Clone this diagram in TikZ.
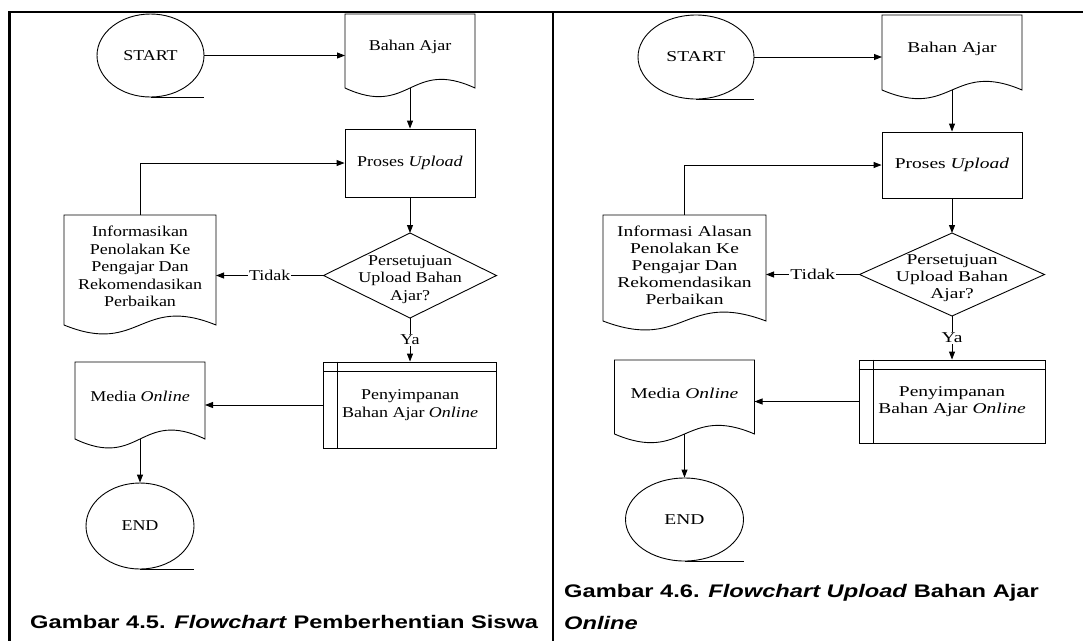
\documentclass[tikz,border=0pt]{standalone}
\usepackage{fontspec}
\setmainfont[FakeStretch=1.2]{Liberation Serif}
\newfontfamily\serifR[FakeStretch=1.3]{Liberation Serif}
\newfontfamily\capfont[FakeStretch=1.3]{Liberation Sans}
\usetikzlibrary{arrows.meta,calc,shapes.geometric}

\tikzset{
  shp/.style={draw=black, line width=0.9pt},
  term/.style={ellipse, shp, inner sep=0pt},
  proc/.style={rectangle, shp, inner sep=0pt, align=center},
  txt/.style={inner sep=0pt, align=center},
  arr/.style={line width=0.9pt, -{Triangle[length=8pt,width=6pt]}},
  lbl/.style={fill=white, inner sep=1pt},
  frame/.style={line width=2.5pt},
  fL/.style={font=\fontsize{15}{17.5}\selectfont},
  fR/.style={font=\serifR\fontsize{15}{17}\selectfont},
  capt/.style={inner sep=0pt, align=left, font=\capfont\bfseries\fontsize{18.2}{32}\selectfont}
}

% document shape drawn around a text node: name, half width, up, down, wave control
\newcommand\docshape[5]{%
  \coordinate (#1-t) at ($(#1)+(0,-#3)$);
  \coordinate (#1-b) at ($(#1)+(0,#4)$);
  \coordinate (#1-l) at ($(#1)+(-#2,0)$);
  \coordinate (#1-r) at ($(#1)+(#2,0)$);
  \draw[shp] ($(#1)+(-#2,#4)$) -- ($(#1)+(-#2,-#3)$) -- ($(#1)+(#2,-#3)$) -- ($(#1)+(#2,#4)$)
     .. controls ($(#1)+(0,{#4-#5})$) and ($(#1)+(0,{#4+#5})$) .. ($(#1)+(-#2,#4)$) -- cycle;}
% decision diamond around a text node: name, half width, half height, vertical offset
\newcommand\decision[4]{%
  \coordinate (#1-n) at ($(#1)+(0,{#4-#3})$);
  \coordinate (#1-s) at ($(#1)+(0,{#4+#3})$);
  \coordinate (#1-w) at ($(#1)+(-#2,#4)$);
  \coordinate (#1-e) at ($(#1)+(#2,#4)$);
  \draw[shp] (#1-n) -- (#1-e) -- (#1-s) -- (#1-w) -- cycle;}
% subroutine inner lines: name, left offset, top offset
\newcommand\subinner[3]{%
  \draw[shp] ($(#1.north west)+(#2,0)$) -- ($(#1.south west)+(#2,0)$);
  \draw[shp] ($(#1.north west)+(0,#3)$) -- ($(#1.north east)+(0,#3)$);}

\begin{document}
\begin{tikzpicture}[x=1pt,y=-1pt]
\useasboundingbox (0,0) rectangle (1083,641);

% table frame
\draw[frame] (8,12) -- (1083,12);
\draw[frame] (9.5,12) -- (9.5,641);
\draw[frame] (553,12) -- (553,641);

% ---------------- left flowchart ----------------
\begin{scope}[every node/.append style={fL}]
\node[term, minimum width=107, minimum height=83] (startL) at (150.5,55.5) {START};
\node[txt, minimum width=130] (bahanL) at (410,47) {Bahan Ajar};
\docshape{bahanL}{65}{33}{41}{30}
\node[proc, minimum width=130, minimum height=68] (prosesL) at (410,163) {Proses \textit{Upload}};
\node[txt] (diaL) at (410,279.5) {Persetujuan\\Upload Bahan\\Ajar?};
\decision{diaL}{86.5}{42.5}{-4}
\node[txt, minimum width=152] (infoL) at (140,266.5) {Informasikan\\Penolakan Ke\\Pengajar Dan\\Rekomendasikan\\Perbaikan};
\docshape{infoL}{76}{51.5}{58.5}{31}
\node[proc, minimum width=173, minimum height=86] (penyL) at (410,405) {Penyimpanan\\Bahan Ajar \textit{Online}};
\subinner{penyL}{14}{10}
\node[txt, minimum width=130] (mediaL) at (140,396) {Media \textit{Online}};
\docshape{mediaL}{65}{34}{43}{31}
\node[term, minimum width=108, minimum height=86] (endL) at (140,526) {END};

\draw[shp] (startL.south) -- (startL.south -| startL.east);
\draw[shp] (endL.south) -- (endL.south -| endL.east);

\draw[arr] (startL.east) -- (startL.east -| bahanL-l);
\draw[arr] (bahanL-b) -- (prosesL.north);
\draw[arr] (prosesL.south) -- (diaL-n);
\draw[arr] (diaL-w) -- node[lbl] (tidakL) {Tidak} (diaL-w -| infoL-r);
\draw[arr] (infoL-t) |- (prosesL.west);
\draw[arr] (diaL-s) -- node[lbl] (yaL) {Ya} (penyL.north);
\draw[arr] (penyL.west) -- (penyL.west -| mediaL-r);
\draw[arr] (mediaL-b) -- (endL.north);
\end{scope}

% ---------------- right flowchart ----------------
\begin{scope}[every node/.append style={fR}]
\node[term, minimum width=116, minimum height=84] (startR) at (696,57) {START};
\node[txt, minimum width=140] (bahanR) at (952,49) {Bahan Ajar};
\docshape{bahanR}{70}{34}{41}{30}
\node[proc, minimum width=140, minimum height=66] (prosesR) at (952,165) {Proses \textit{Upload}};
\node[txt] (diaR) at (952,278) {Persetujuan\\Upload Bahan\\Ajar?};
\decision{diaR}{92.5}{41.5}{-3.5}
\node[txt, minimum width=163] (infoR) at (684.5,265) {Informasi Alasan\\Penolakan Ke\\Pengajar Dan\\Rekomendasikan\\Perbaikan};
\docshape{infoR}{81.5}{50}{56}{31}
\node[proc, minimum width=186, minimum height=83] (penyR) at (952,401.5) {Penyimpanan\\Bahan Ajar \textit{Online}};
\subinner{penyR}{15}{10}
\node[txt, minimum width=140] (mediaR) at (684.5,393) {Media \textit{Online}};
\docshape{mediaR}{70}{33}{41}{30}
\node[term, minimum width=118, minimum height=83] (endR) at (684.5,519.5) {END};

\draw[shp] (startR.south) -- (startR.south -| startR.east);
\draw[shp] (endR.south) -- (endR.south -| endR.east);

\draw[arr] (startR.east) -- (startR.east -| bahanR-l);
\draw[arr] (bahanR-b) -- (prosesR.north);
\draw[arr] (prosesR.south) -- (diaR-n);
\draw[arr] (diaR-w) -- node[lbl] (tidakR) {Tidak} (diaR-w -| infoR-r);
\draw[arr] (infoR-t) |- (prosesR.west);
\draw[arr] (diaR-s) -- node[lbl] (yaR) {Ya} (penyR.north);
\draw[arr] (penyR.west) -- (penyR.west -| mediaR-r);
\draw[arr] (mediaR-b) -- (endR.north);
\end{scope}

% captions
\node[capt, anchor=base west] (capL) at (30,628) {Gambar 4.5. \textit{Flowchart} Pemberhentian Siswa};
\node[capt, anchor=north west] (capR) at (564,584) {Gambar 4.6. \textit{Flowchart Upload} Bahan Ajar\\\textit{Online}};
\end{tikzpicture}
\end{document}
